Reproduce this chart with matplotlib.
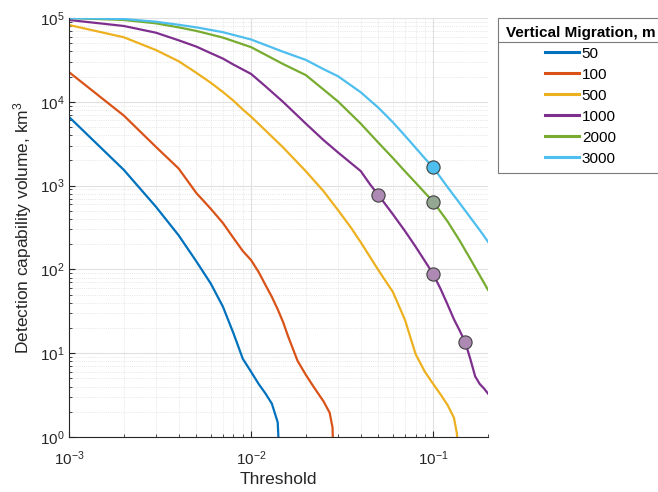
import matplotlib
matplotlib.use("Agg")
import matplotlib.pyplot as plt
from matplotlib.lines import Line2D
from matplotlib.ticker import LogLocator, NullFormatter

plt.rcParams['font.family'] = ['Liberation Sans', 'DejaVu Sans']
plt.rcParams['mathtext.fontset'] = 'custom'
plt.rcParams['mathtext.rm'] = 'Liberation Sans'
plt.rcParams['mathtext.it'] = 'Liberation Sans:italic'
plt.rcParams['mathtext.bf'] = 'Liberation Sans:bold'

# data (threshold vs detection volume, km^3)
labels = ['50', '100', '500', '1000', '2000', '3000']
colors = ['#0072BD', '#D95319', '#EDB120', '#7E2F8E', '#77AC30', '#4DBEEE']

x_50 = [0.001, 0.002, 0.003, 0.004, 0.005, 0.006, 0.007, 0.008, 0.009, 0.01,
        0.011, 0.012, 0.013, 0.014, 0.0145]
y_50 = [6600, 1540, 560, 255, 125, 68, 36, 17.3, 8.6, 6.0,
        4.3, 3.3, 2.5, 1.5, 0.3]

x_100 = [0.001, 0.002, 0.003, 0.004, 0.005, 0.006, 0.007, 0.008, 0.009, 0.01,
         0.011, 0.012, 0.013, 0.014, 0.015, 0.016, 0.018, 0.02, 0.022, 0.025,
         0.027, 0.028, 0.029]
y_100 = [22600, 6850, 2900, 1600, 817, 530, 358, 237, 166, 129,
         93, 65, 47, 33.4, 23.4, 15.7, 8.1, 5.5, 4.0, 2.66,
         1.95, 1.3, 0.1]

x_500 = [0.001, 0.002, 0.003, 0.004, 0.005, 0.006, 0.007, 0.008, 0.009, 0.01,
         0.012, 0.015, 0.02, 0.025, 0.03, 0.035, 0.04, 0.05, 0.06, 0.07,
         0.08, 0.09, 0.1, 0.11, 0.12, 0.13, 0.135, 0.14]
y_500 = [82500, 58900, 41500, 30500, 22200, 16900, 13100, 10300, 8100, 6640,
         4550, 2850, 1480, 857, 510, 325, 211, 98, 54, 25,
         9.8, 6.0, 4.3, 3.2, 2.4, 1.7, 1.1, 0.2]

x_1000 = [0.001, 0.002, 0.003, 0.004, 0.005, 0.006, 0.007, 0.008, 0.01, 0.012,
          0.015, 0.02, 0.025, 0.03, 0.04, 0.045, 0.05, 0.06, 0.07, 0.08,
          0.09, 0.1, 0.11, 0.12, 0.13, 0.14, 0.15, 0.16, 0.17, 0.18,
          0.19, 0.2]
y_1000 = [94700, 80300, 66800, 54200, 45600, 38100, 32800, 27800, 21500, 15300,
          9950, 5480, 3490, 2490, 1490, 1035, 773, 456, 287, 187,
          126, 88, 58, 38, 25.4, 18.5, 13.5, 8.5, 5.3, 4.3,
          3.8, 3.3]

x_2000 = [0.001, 0.002, 0.003, 0.004, 0.005, 0.007, 0.01, 0.015, 0.02, 0.025,
          0.03, 0.04, 0.05, 0.06, 0.07, 0.08, 0.09, 0.1, 0.12, 0.14,
          0.16, 0.18, 0.2]
y_2000 = [100000, 94700, 86400, 77300, 70200, 58400, 44900, 28200, 20800, 14000,
          10100, 5490, 3250, 2140, 1480, 1085, 822, 643, 373, 219,
          133, 85, 57]

x_3000 = [0.001, 0.002, 0.003, 0.004, 0.005, 0.007, 0.01, 0.015, 0.02, 0.025,
          0.03, 0.04, 0.05, 0.06, 0.07, 0.08, 0.09, 0.1, 0.12, 0.14,
          0.16, 0.18, 0.2]
y_3000 = [99500, 97300, 90300, 83000, 77400, 67700, 55400, 39500, 31600, 24500,
          20200, 13000, 8500, 5710, 3940, 2830, 2110, 1650, 957, 614,
          416, 295, 214]

# highlighted points
mark_x = [0.05, 0.1, 0.15, 0.1, 0.1]
mark_y = [773, 88, 13.5, 643, 1650]
mark_fc = ['#AD89B3', '#AD89B3', '#AD89B3', '#94A891', '#4DBEEE']

xs = [x_50, x_100, x_500, x_1000, x_2000, x_3000]
ys = [y_50, y_100, y_500, y_1000, y_2000, y_3000]

fig = plt.figure(figsize=(6.58, 4.92), dpi=100)
ax = fig.add_axes([69/658, 1-437/492, (488-69)/658, (437-18)/492])

for x, y, c, lab in zip(xs, ys, colors, labels):
    ax.plot(x, y, color=c, lw=1.6, label=lab)

for mx, my, fc in zip(mark_x, mark_y, mark_fc):
    ax.plot(mx, my, 'o', ms=9.5, mfc=fc, mec='#404040', mew=0.8, zorder=5)

ax.set_xscale('log')
ax.set_yscale('log')
ax.set_xlim(1e-3, 0.2)
ax.set_ylim(1, 1e5)
ax.xaxis.set_minor_locator(LogLocator(base=10, subs=range(2, 10), numticks=20))
ax.yaxis.set_minor_locator(LogLocator(base=10, subs=range(2, 10), numticks=20))
ax.xaxis.set_minor_formatter(NullFormatter())
ax.yaxis.set_minor_formatter(NullFormatter())

ax.grid(True, which='major', color='#e0e0e0', lw=0.8, ls='-')
ax.grid(True, which='minor', color='#d6d6d6', lw=0.5, ls=':')
ax.set_axisbelow(True)
for s in ['top', 'right']:
    ax.spines[s].set_visible(False)
for s in ['left', 'bottom']:
    ax.spines[s].set_color('#262626')
ax.tick_params(which='both', direction='in', colors='#262626', labelsize=11)
ax.tick_params(which='major', length=4)
ax.tick_params(which='minor', length=2.5)
ax.tick_params(axis='x', which='major', pad=9)

ax.set_xlabel('Threshold', fontsize=12.5, color='#262626', labelpad=3)
ax.set_ylabel('Detection capability volume, km$^3$', fontsize=12.5, color='#262626', labelpad=4)

leg = ax.legend(loc='upper left', bbox_to_anchor=(498/658, 1-18/492), bbox_transform=fig.transFigure,
                borderaxespad=0, title='Vertical Migration, m', fontsize=11,
                title_fontproperties={'weight': 'bold', 'size': 11}, alignment='center',
                handlelength=2.2, handletextpad=0.2, labelspacing=0.46, fancybox=False,
                edgecolor='#7a7a7a', framealpha=1, borderpad=0.5)
leg.get_frame().set_linewidth(0.8)
for h in leg.get_lines():
    h.set_linewidth(2.2)
fig.add_artist(Line2D([498/658, 1.0], [1-41.5/492, 1-41.5/492], color='#7a7a7a', lw=0.8))

fig.savefig('out.png', dpi=100)
